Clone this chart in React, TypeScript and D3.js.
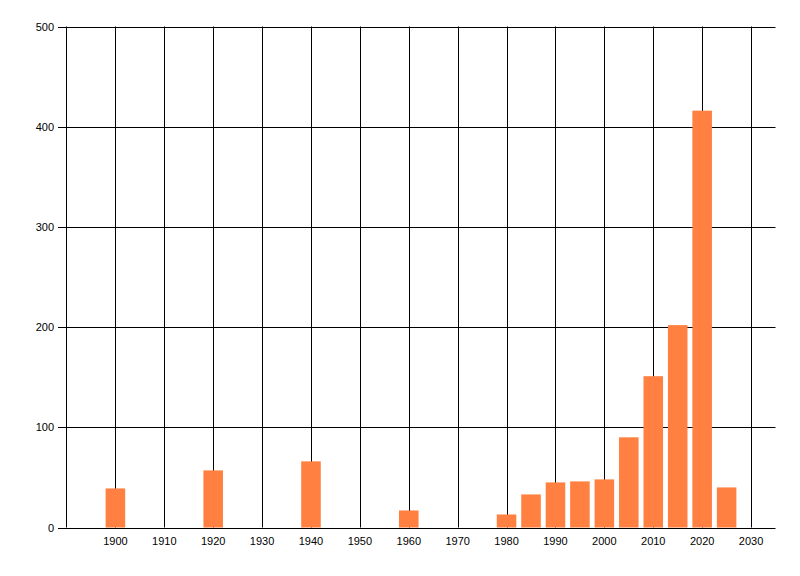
import React from "react";
import * as d3 from "d3";

const years = [1900, 1920, 1940, 1960, 1980, 1985, 1990, 1995, 2000, 2005, 2010, 2015, 2020, 2025];
const counts = [39, 57, 66, 17, 13, 33, 45, 46, 48, 90, 151, 202, 416, 40];
const xTicks = [1900, 1910, 1920, 1930, 1940, 1950, 1960, 1970, 1980, 1990, 2000, 2010, 2020, 2030];
const yTicks = [0, 100, 200, 300, 400, 500];

export default function App() {
  const W = 800, H = 576;
  const x = d3.scaleLinear().domain([1890, 2035]).range([66.5, 775.5]);
  const y = d3.scaleLinear().domain([0, 500]).range([527.5, 26.5]);
  const barW = 4;
  const font = "'Liberation Sans', Arial, sans-serif";
  return (
    <svg width={W} height={H} style={{ position: "absolute", left: 0, top: 0, background: "#fff" }}>
      {yTicks.map((t) => (
        <g key={"y" + t}>
          <line x1={58} x2={x.range()[1]} y1={Math.round(y(t)) + 0.5} y2={Math.round(y(t)) + 0.5} stroke="#000" strokeWidth={1} />
          <text x={54} y={Math.round(y(t)) + 4} textAnchor="end" fontFamily={font} fontSize={11} fill="#000">{t}</text>
        </g>
      ))}
      {xTicks.map((t) => (
        <g key={"x" + t}>
          <line x1={Math.round(x(t)) + 0.5} x2={Math.round(x(t)) + 0.5} y1={y(500)} y2={y(0)} stroke="#000" strokeWidth={1} />
          <text x={x(t)} y={545} textAnchor="middle" fontFamily={font} fontSize={11} fill="#000">{t}</text>
        </g>
      ))}
      <line x1={66.5} x2={66.5} y1={y(500)} y2={y(0)} stroke="#000" strokeWidth={1} />
      {years.map((yr, i) => (
        <rect key={yr} x={x(yr - barW / 2)} width={x(yr + barW / 2) - x(yr - barW / 2)} y={y(counts[i])} height={y(0) - y(counts[i])} fill="#FF8040" />
      ))}
    </svg>
  );
}
